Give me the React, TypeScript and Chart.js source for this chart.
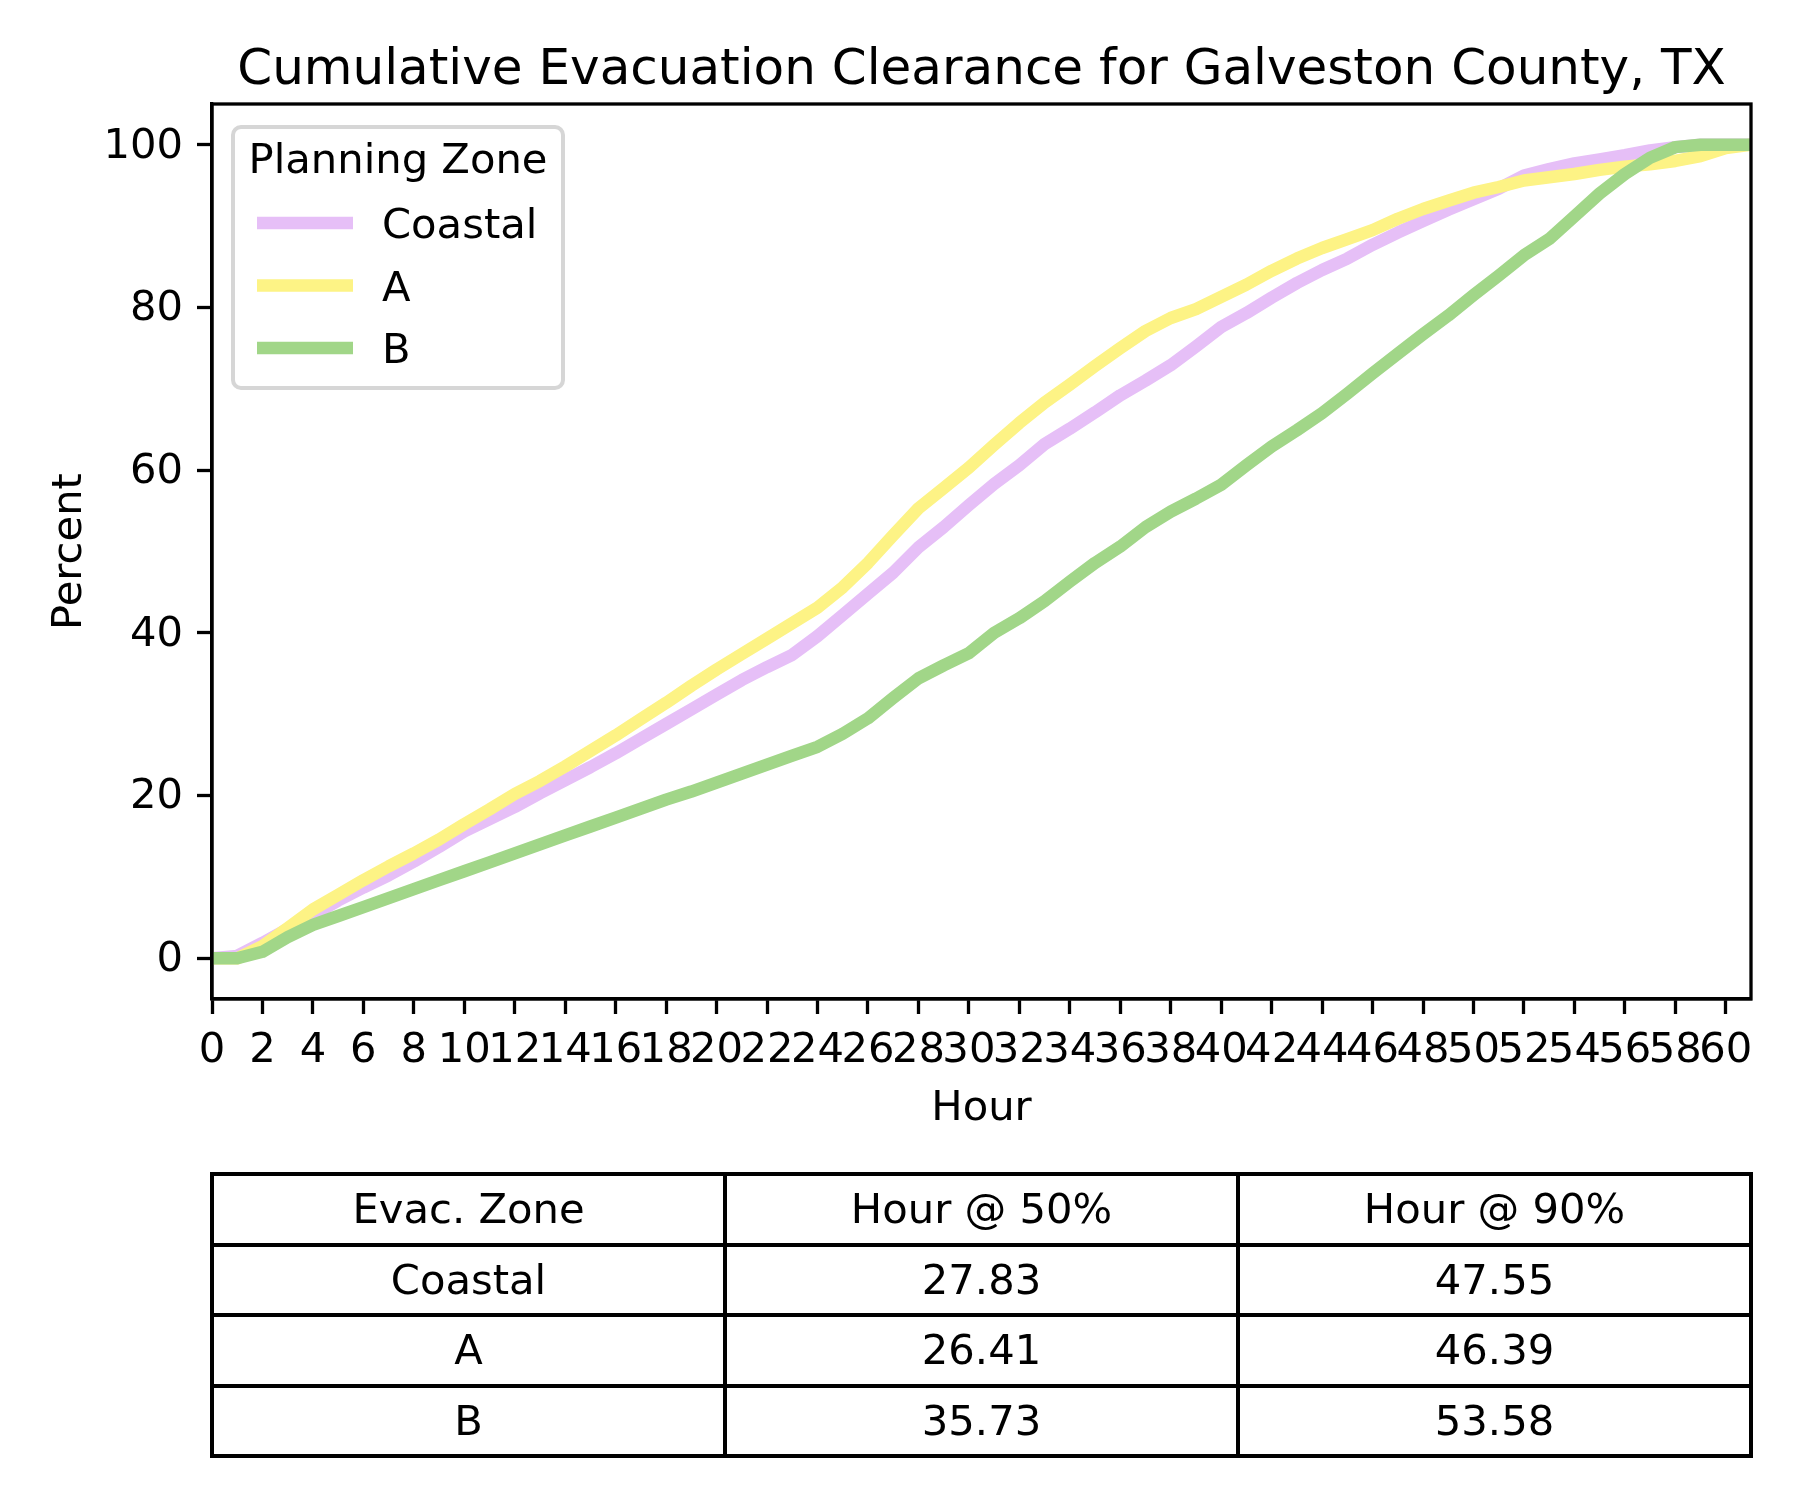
import React, { useEffect, useRef } from "react";
import { Chart, registerables } from "chart.js";

Chart.register(...registerables);

const TITLE = "Cumulative Evacuation Clearance for Galveston County, TX";
const LEGEND_TITLE = "Planning Zone";
const X_LABEL = "Hour";
const Y_LABEL = "Percent";

const hours = [
  0, 1, 2, 3, 4, 5, 6, 7, 8, 9, 10, 11, 12, 13, 14, 15, 16, 17, 18, 19, 20,
  21, 22, 23, 24, 25, 26, 27, 28, 29, 30, 31, 32, 33, 34, 35, 36, 37, 38, 39,
  40, 41, 42, 43, 44, 45, 46, 47, 48, 49, 50, 51, 52, 53, 54, 55, 56, 57, 58,
  59, 60, 61,
];

const coastal = [
  0, 0.3, 1.9, 3.6, 5.3, 7.1, 8.7, 10.2, 11.9, 13.7, 15.6, 17.1, 18.6, 20.3,
  21.9, 23.5, 25.2, 27.0, 28.8, 30.6, 32.4, 34.2, 35.8, 37.3, 39.6, 42.2, 44.8,
  47.4, 50.5, 53.0, 55.7, 58.3, 60.6, 63.2, 65.1, 67.1, 69.2, 71.0, 72.9, 75.2,
  77.6, 79.3, 81.2, 83.0, 84.6, 86.0, 87.7, 89.2, 90.6, 92.0, 93.3, 94.6, 96.2,
  97.0, 97.7, 98.2, 98.7, 99.3, 99.7, 100, 100, 100,
];

const zoneA = [
  0, 0, 1.5, 3.7, 6.0, 7.8, 9.6, 11.3, 12.9, 14.6, 16.5, 18.3, 20.2, 21.8, 23.6,
  25.5, 27.4, 29.4, 31.4, 33.5, 35.5, 37.4, 39.3, 41.2, 43.1, 45.6, 48.6, 52.0,
  55.3, 57.8, 60.3, 63.1, 65.8, 68.3, 70.5, 72.8, 75.0, 77.1, 78.7, 79.8, 81.3,
  82.8, 84.5, 86.0, 87.3, 88.4, 89.5, 90.9, 92.1, 93.1, 94.1, 94.8, 95.6, 96.0,
  96.4, 96.9, 97.3, 97.6, 98.0, 98.6, 99.6, 100,
];

const zoneB = [
  0, 0, 0.8, 2.6, 4.1, 5.2, 6.3, 7.4, 8.5, 9.6, 10.7, 11.8, 12.9, 14.0, 15.1,
  16.2, 17.3, 18.4, 19.5, 20.5, 21.6, 22.7, 23.8, 24.9, 26.0, 27.6, 29.5, 32.0,
  34.4, 36.0, 37.5, 40.0, 41.8, 43.9, 46.3, 48.6, 50.6, 53.0, 54.9, 56.5, 58.2,
  60.6, 62.9, 64.9, 67.0, 69.4, 71.9, 74.3, 76.7, 79.0, 81.5, 83.9, 86.4, 88.4,
  91.2, 94.0, 96.4, 98.4, 99.7, 100, 100, 100,
];

const seriesNames = ["Coastal", "A", "B"];
const seriesColors = ["#e6bff7", "#fdf385", "#a1d688"];

const xTicks = [
  0, 2, 4, 6, 8, 10, 12, 14, 16, 18, 20, 22, 24, 26, 28, 30, 32, 34, 36, 38, 40,
  42, 44, 46, 48, 50, 52, 54, 56, 58, 60,
];
const yTicks = [0, 20, 40, 60, 80, 100];

const tableHeader = ["Evac. Zone", "Hour @ 50%", "Hour @ 90%"];
const tableZones = ["Coastal", "A", "B"];
const hour50 = ["27.83", "26.41", "35.73"];
const hour90 = ["47.55", "46.39", "53.58"];

const FONT = "'DejaVu Sans', 'Liberation Sans', sans-serif";
const TICK_PX = 41.7;

const mplPlugin = {
  id: "mplDecor",
  afterDatasetsDraw(chart: any) {
    const { ctx, chartArea } = chart;
    const { left, top, right, bottom } = chartArea;
    ctx.save();
    // frame (spines)
    ctx.strokeStyle = "#000";
    ctx.lineWidth = 3.3;
    ctx.strokeRect(left, top, right - left, bottom - top);

    // title
    ctx.fillStyle = "#000";
    ctx.font = `50px ${FONT}`;
    ctx.textAlign = "center";
    ctx.textBaseline = "alphabetic";
    ctx.fillText(TITLE, (left + right) / 2, top - 20);

    // legend box
    const bx = left + 21;
    const by = top + 23;
    const bw = 330;
    const bh = 261;
    const r = 8;
    ctx.beginPath();
    ctx.moveTo(bx + r, by);
    ctx.lineTo(bx + bw - r, by);
    ctx.arcTo(bx + bw, by, bx + bw, by + r, r);
    ctx.lineTo(bx + bw, by + bh - r);
    ctx.arcTo(bx + bw, by + bh, bx + bw - r, by + bh, r);
    ctx.lineTo(bx + r, by + bh);
    ctx.arcTo(bx, by + bh, bx, by + bh - r, r);
    ctx.lineTo(bx, by + r);
    ctx.arcTo(bx, by, bx + r, by, r);
    ctx.closePath();
    ctx.fillStyle = "rgba(255,255,255,0.8)";
    ctx.fill();
    ctx.strokeStyle = "#d6d6d6";
    ctx.lineWidth = 4;
    ctx.stroke();

    ctx.fillStyle = "#000";
    ctx.font = `${TICK_PX}px ${FONT}`;
    ctx.textAlign = "center";
    ctx.fillText(LEGEND_TITLE, bx + bw / 2, top + 69);

    ctx.textAlign = "left";
    chart.data.datasets.forEach((ds: any, i: number) => {
      const cy = top + 119 + i * 62.5;
      ctx.strokeStyle = ds.borderColor;
      ctx.lineWidth = 12.5;
      ctx.lineCap = "butt";
      ctx.beginPath();
      ctx.moveTo(left + 45, cy);
      ctx.lineTo(left + 141, cy);
      ctx.stroke();
      ctx.fillStyle = "#000";
      ctx.fillText(ds.label, left + 170, cy + 15);
    });
    ctx.restore();
  },
};

export default function App() {
  const canvasRef = useRef<HTMLCanvasElement | null>(null);

  useEffect(() => {
    document.body.style.margin = "0";
    const canvas = canvasRef.current;
    if (!canvas) return;
    const series = [coastal, zoneA, zoneB];
    const chart = new Chart(canvas, {
      type: "line",
      data: {
        datasets: series.map((vals, i) => ({
          label: seriesNames[i],
          data: hours.map((h, j) => ({ x: h, y: vals[j] })),
          borderColor: seriesColors[i],
          backgroundColor: seriesColors[i],
          borderWidth: 12.5,
          pointRadius: 0,
          pointHoverRadius: 0,
          tension: 0,
          fill: false,
          borderJoinStyle: "round",
          borderCapStyle: "butt",
          clip: 0,
          order: 2 - i,
        })),
      },
      options: {
        animation: false,
        responsive: false,
        devicePixelRatio: 1,
        events: [],
        layout: { padding: { left: 0, right: 49, top: 104, bottom: 351 } },
        plugins: {
          legend: { display: false },
          tooltip: { enabled: false },
          title: { display: false },
        },
        scales: {
          x: {
            type: "linear",
            min: 0,
            max: 61,
            afterBuildTicks: (scale: any) => {
              scale.ticks = xTicks.map((v) => ({ value: v }));
            },
            afterFit: (scale: any) => {
              scale.height = 150;
            },
            ticks: {
              autoSkip: false,
              maxRotation: 0,
              minRotation: 0,
              color: "#000",
              padding: 12,
              font: { family: FONT, size: TICK_PX },
              callback: (v: any) => String(v),
            },
            grid: {
              drawOnChartArea: false,
              drawTicks: true,
              tickLength: 15,
              tickWidth: 3.3,
              tickColor: "#000",
            },
            border: { display: true, color: "#000", width: 3.3 },
            title: {
              display: true,
              text: X_LABEL,
              color: "#000",
              font: { family: FONT, size: TICK_PX },
              padding: { top: 0, bottom: 15 },
            },
          },
          y: {
            type: "linear",
            min: -5,
            max: 105,
            afterBuildTicks: (scale: any) => {
              scale.ticks = yTicks.map((v) => ({ value: v }));
            },
            afterFit: (scale: any) => {
              scale.width = 212;
            },
            ticks: {
              color: "#000",
              padding: 14,
              labelOffset: 2,
              font: { family: FONT, size: TICK_PX },
              callback: (v: any) => String(v),
            },
            grid: {
              drawOnChartArea: false,
              drawTicks: true,
              tickLength: 15,
              tickWidth: 3.3,
              tickColor: "#000",
            },
            border: { display: true, color: "#000", width: 3.3 },
            title: {
              display: true,
              text: Y_LABEL,
              color: "#000",
              font: { family: FONT, size: TICK_PX },
              padding: { top: 45, bottom: 0 },
            },
          },
        },
      },
      plugins: [mplPlugin],
    } as any);
    return () => chart.destroy();
  }, []);

  const rows = [tableHeader, ...tableZones.map((z, i) => [z, hour50[i], hour90[i]])];
  const T_LEFT = 212;
  const T_TOP = 1174;
  const T_W = 1539 / 3;
  const T_H = 282 / 4;
  const BW = 4;

  return (
    <div style={{ position: "relative", width: 1800, height: 1500, background: "#fff" }}>
      <canvas
        ref={canvasRef}
        width={1800}
        height={1500}
        style={{ position: "absolute", left: 0, top: 0, width: 1800, height: 1500 }}
      />
      {rows.map((row, r) =>
        row.map((cell, c) => (
          <div
            key={`${r}-${c}`}
            style={{
              position: "absolute",
              left: T_LEFT + c * T_W - BW / 2,
              top: T_TOP + r * T_H - BW / 2,
              width: T_W + BW,
              height: T_H + BW,
              boxSizing: "border-box",
              border: `${BW}px solid #000`,
              display: "flex",
              alignItems: "center",
              justifyContent: "center",
              fontFamily: FONT,
              fontSize: TICK_PX,
              lineHeight: 1,
              color: "#000",
            }}
          >
            {cell}
          </div>
        ))
      )}
    </div>
  );
}
